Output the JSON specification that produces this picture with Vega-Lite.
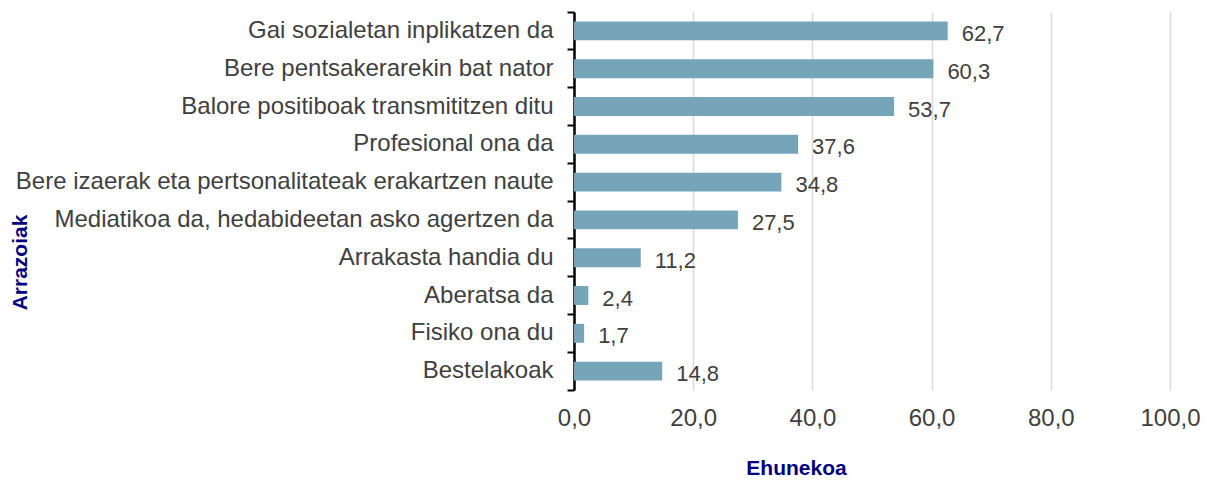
{
  "$schema": "https://vega.github.io/schema/vega-lite/v6.json",
  "width": 596,
  "height": 378,
  "autosize": {"type": "none"},
  "padding": {"left": 574, "top": 12, "right": 41, "bottom": 91},
  "background": "white",
  "config": {
    "locale": {"number": {"decimal": ",", "thousands": ".", "grouping": [3], "currency": ["", " €"]}},
    "view": {"stroke": null},
    "font": "Liberation Sans"
  },
  "data": {"values": [
    {"arrazoia": "Gai sozialetan inplikatzen da", "balioa": 62.7},
    {"arrazoia": "Bere pentsakerarekin bat nator", "balioa": 60.3},
    {"arrazoia": "Balore positiboak transmititzen ditu", "balioa": 53.7},
    {"arrazoia": "Profesional ona da", "balioa": 37.6},
    {"arrazoia": "Bere izaerak eta pertsonalitateak erakartzen naute", "balioa": 34.8},
    {"arrazoia": "Mediatikoa da, hedabideetan asko agertzen da", "balioa": 27.5},
    {"arrazoia": "Arrakasta handia du", "balioa": 11.2},
    {"arrazoia": "Aberatsa da", "balioa": 2.4},
    {"arrazoia": "Fisiko ona du", "balioa": 1.7},
    {"arrazoia": "Bestelakoak", "balioa": 14.8}
  ]},
  "encoding": {
    "y": {
      "field": "arrazoia", "type": "nominal", "sort": null,
      "scale": {"paddingInner": 0, "paddingOuter": 0},
      "axis": {
        "title": "Arrazoiak",
        "titleColor": "#000080", "titleFont": "Liberation Sans", "titleFontSize": 21, "titleFontWeight": "bold",
        "titleX": -554, "titleY": 250, "titleAlign": "center", "titleBaseline": "middle", "titleAngle": -90,
        "labelFontSize": 24, "labelColor": "#404040", "labelPadding": 14, "labelLimit": 700,
        "domainColor": "black", "domainWidth": 2.5,
        "tickColor": "black", "tickWidth": 2, "tickSize": 7,
        "bandPosition": 1, "tickExtra": true
      }
    },
    "x": {
      "field": "balioa", "type": "quantitative",
      "scale": {"domain": [0, 100], "nice": false},
      "axis": {
        "title": "Ehunekoa",
        "titleColor": "#000080", "titleFontSize": 21, "titleFontWeight": "bold",
        "titleX": 222, "titleY": 78, "titleAlign": "center", "titleBaseline": "middle",
        "values": [0, 20, 40, 60, 80, 100], "format": ".1f",
        "labelFontSize": 24, "labelColor": "#404040", "labelPadding": 16, "labelFlush": false,
        "domain": false, "ticks": false,
        "grid": true, "gridColor": "#d9d9d9", "gridWidth": 1.5
      }
    }
  },
  "layer": [
    {"mark": {"type": "bar", "color": "#76A5BA", "height": {"band": 0.5}}},
    {
      "mark": {"type": "text", "align": "left", "baseline": "middle", "dx": 14, "dy": 3, "fontSize": 22, "color": "#404040"},
      "encoding": {"text": {"field": "balioa", "type": "quantitative", "format": ".1f"}}
    }
  ]
}
